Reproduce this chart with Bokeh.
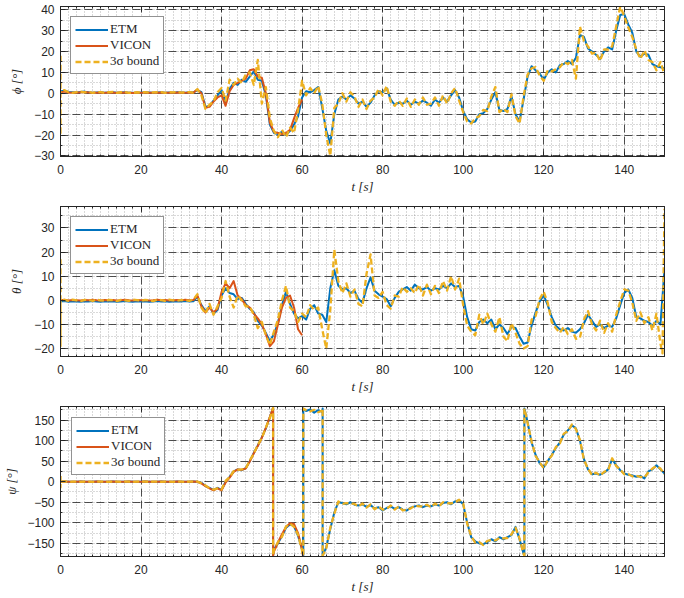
from bokeh.plotting import figure
from bokeh.layouts import column
from bokeh.models import (Range1d, SingleIntervalTicker, LinearAxis, Grid,
                          Legend, LegendItem)
from bokeh.embed import file_html
from bokeh.resources import INLINE

# ---------------- data ----------------
t_s = list(range(151))          # ETM sample times (s)
t_vic = list(range(61))         # VICON sample times (s)

legend_labels = ["ETM", "VICON", "3σ bound"]
x_label = "t [s]"

# ---- roll phi ----
phi_etm = [1.0, 1.2, 0.6, 0.5, 0.4, 0.6, 0.8, 0.5, 0.3, 0.4,
           0.5, 0.3, 0.4, 0.5, 0.3, 0.4, 0.5, 0.3, 0.2, 0.4,
           0.3, 0.5, 0.4, 0.3, 0.4, 0.5, 0.3, 0.4, 0.3, 0.5,
           0.4, 0.3, 0.5, 0.4, 1.5, 0.5, -6.5, -6.0, -3.5, -1.0,
           1.5, -4.5, 2.0, 5.0, 4.0, 6.5, 5.5, 8.0, 10.5, 6.5,
           6.0, -1.0, -15.0, -19.0, -19.5, -18.5, -20.0, -18.0, -15.0, -11.0,
           -2.0, 1.0, 0.5, 1.5, 3.0, -7.0, -18.0, -24.0, -10.0, -3.0,
           -1.5, -3.0, -1.0, -2.5, -5.0, -4.0, -6.5, -4.5, -1.0, 1.0,
           0.5, 2.5, -3.0, -5.5, -4.5, -5.0, -3.5, -5.5, -4.0, -5.0,
           -3.5, -4.5, -6.0, -3.0, -4.5, -2.0, -4.0, -1.0, 1.5, -2.0,
           -8.5, -12.5, -14.0, -13.5, -10.0, -9.5, -7.5, -3.0, 0.5, -8.0,
           -8.5, -7.5, -1.5, -10.0, -13.5, -3.0, 8.0, 13.0, 11.0, 9.5,
           6.5, 10.0, 11.5, 10.0, 13.5, 14.0, 15.5, 14.0, 17.0, 28.0,
           27.0, 21.5, 20.0, 18.5, 16.5, 20.0, 22.0, 21.0, 30.0, 37.5,
           38.0, 33.0, 29.0, 20.0, 17.5, 19.0, 18.5, 14.0, 13.0, 12.5,
           12.0]
phi_vic = [0.5, 0.8, 0.4, 0.3, 0.3, 0.5, 0.6, 0.4, 0.2, 0.3,
           0.4, 0.2, 0.3, 0.4, 0.2, 0.3, 0.4, 0.2, 0.1, 0.3,
           0.2, 0.4, 0.3, 0.2, 0.3, 0.4, 0.2, 0.3, 0.2, 0.4,
           0.3, 0.2, 0.4, 0.3, 1.8, 0.0, -7.0, -6.5, -4.0, -2.0,
           -1.0, -6.0, 1.0, 4.0, 5.0, 6.0, 7.0, 11.0, 11.5, 8.0,
           7.5, 0.0, -14.0, -18.5, -19.0, -19.5, -19.0, -17.5, -12.0, -7.0,
           -3.0]
phi_bnd_t = [0, 0, 0] + list(range(1, 151))
phi_bnd = [18.0, -20.0, 1.0,
           1.5, 0.5, 0.2, 0.6, 0.8, 0.4, 0.6, 0.2, 0.5,
           0.6, 0.2, 0.5, 0.7, 0.2, 0.5, 0.6, 0.2, 0.3, 0.5,
           0.2, 0.6, 0.3, 0.4, 0.5, 0.6, 0.2, 0.5, 0.4, 0.6,
           0.3, 0.4, 0.6, 0.3, 2.0, -1.0, -7.5, -5.5, -4.0, 0.5,
           2.5, -3.5, 6.5, 4.0, 7.0, 5.0, 9.0, 10.0, 4.0, 16.0,
           -5.0, 3.0, -12.0, -18.0, -21.0, -17.5, -21.0, -16.5, -19.0, -8.0,
           6.0, -1.0, 2.5, 0.0, 3.5, -5.0, -20.0, -30.0, -7.0, -5.0,
           0.0, -4.0, 0.5, -1.5, -6.5, -3.0, -7.5, -3.5, -2.0, 2.0,
           -1.0, 3.5, -4.0, -6.0, -3.5, -6.0, -2.5, -6.5, -3.0, -5.5,
           -2.0, -5.5, -5.0, -2.0, -6.0, -1.0, -5.0, 0.0, 2.5, -3.5,
           -9.0, -13.5, -14.5, -12.0, -11.0, -8.0, -8.5, -1.5, 3.0, -9.0,
           -7.5, -9.0, -0.5, -11.0, -14.5, -1.5, 9.0, 12.0, 12.5, 8.5,
           6.0, 11.0, 10.5, 11.5, 12.5, 15.0, 14.0, 16.0, 7.0, 32.0,
           25.0, 22.5, 19.0, 19.5, 15.5, 21.0, 21.0, 22.5, 32.0, 41.5,
           37.0, 31.5, 27.0, 21.0, 16.5, 20.5, 16.0, 15.0, 11.0, 15.0,
           9.0]

# ---- pitch theta ----
theta_etm = [-0.5, -0.3, -0.6, -0.4, -0.5, -0.6, -0.4, -0.5, -0.3, -0.5,
             -0.6, -0.4, -0.5, -0.4, -0.6, -0.5, -0.3, -0.5, -0.6, -0.4,
             -0.5, -0.4, -0.6, -0.5, -0.3, -0.5, -0.4, -0.6, -0.5, -0.4,
             -0.5, -0.3, -0.5, -0.4, 1.5, -2.0, -4.5, -2.5, -5.5, -4.0,
             2.0, 5.0, 3.0, 2.5, 0.5, 1.0, -1.5, -3.5, -5.0, -8.5,
             -10.5, -13.5, -17.0, -14.0, -9.5, -2.0, 3.5, -1.5, -5.5, -7.5,
             -6.5, -8.0, -3.5, -2.0, -5.5, -6.0, -9.0, 5.0, 12.5, 6.0,
             4.5, 5.0, 3.0, 4.0, 0.5, -1.0, 5.0, 9.5, 4.0, 2.5,
             1.5, 0.5, -2.5, 1.0, 3.5, 4.5, 5.5, 4.0, 6.5, 5.0,
             4.5, 5.5, 4.0, 5.0, 4.5, 6.0, 5.0, 7.0, 5.5, 6.0,
             1.5, -7.0, -12.0, -12.5, -9.0, -8.0, -9.5, -8.0, -12.0, -10.0,
             -11.5, -14.0, -11.0, -11.5, -15.0, -18.0, -17.5, -10.5, -5.0, -0.5,
             2.0, -2.0, -7.0, -10.5, -12.0, -12.5, -11.5, -13.0, -13.5, -12.0,
             -9.5, -6.0, -8.5, -11.0, -10.0, -11.5, -10.5, -11.0, -7.5, -2.0,
             3.0, 4.5, 1.0, -7.0, -7.5, -8.5, -9.0, -10.5, -8.5, -10.0,
             13.0]
theta_vic = [0.0, 0.2, -0.1, 0.1, 0.0, -0.1, 0.1, 0.0, 0.2, 0.0,
             -0.1, 0.1, 0.0, 0.1, -0.1, 0.0, 0.2, 0.0, -0.1, 0.1,
             0.0, 0.1, -0.1, 0.0, 0.2, 0.0, 0.1, -0.1, 0.0, 0.1,
             0.0, 0.2, 0.0, 0.1, 2.0, -2.5, -5.0, -3.0, -5.0, -3.5,
             3.5, 7.0, 5.0, 8.0, 2.0, 0.5, -2.0, -3.0, -5.5, -7.5,
             -10.0, -14.0, -19.0, -17.0, -10.0, -3.0, 1.0, 2.0, -3.0, -12.0,
             -14.5]
theta_bnd_t = [0, 0, 0] + list(range(1, 150)) + [149.5, 150]
theta_bnd = [17.0, -19.0, 0.0,
             0.2, -0.2, 0.3, 0.0, -0.3, 0.2, 0.1, -0.2, 0.3,
             0.0, -0.2, 0.2, 0.1, -0.3, 0.2, 0.0, -0.2, 0.3, 0.1,
             -0.2, 0.2, 0.0, -0.3, 0.2, 0.1, -0.2, 0.3, 0.0, -0.2,
             0.2, 0.0, -0.2, 0.3, 2.5, -3.0, -5.5, -1.5, -6.0, -2.5,
             1.0, 8.0, 1.5, -3.0, 2.0, 0.0, -2.5, -2.5, -6.0, -11.5,
             -9.0, -14.5, -18.5, -13.0, -8.0, 0.0, 6.0, -3.0, -4.5, -9.0,
             -5.5, -7.0, -2.0, -4.0, -3.0, -12.0, -20.0, -4.0, 21.0, 8.0,
             3.0, 7.0, 1.5, 4.5, -1.5, -2.5, 11.0, 19.0, 2.0, 1.0,
             3.5, -2.0, -3.5, 2.0, 1.5, 5.5, 3.5, 5.0, 3.0, 6.5,
             2.0, 6.5, 2.5, 6.0, 3.0, 8.0, 4.0, 10.0, 4.5, 9.0,
             -2.0, -10.5, -13.0, -14.5, -6.0, -10.0, -5.5, -10.0, -13.0, -7.0,
             -15.0, -17.0, -9.5, -13.5, -18.0, -20.0, -19.0, -8.0, -6.5, 0.5,
             3.5, -1.0, -9.0, -11.5, -13.5, -11.0, -14.0, -12.0, -16.0, -15.5,
             -8.0, -4.5, -10.0, -12.5, -8.5, -13.5, -9.5, -13.0, -6.0, -0.5,
             4.5, 4.0, -1.0, -8.5, -5.0, -9.5, -7.0, -12.5, -5.5, -18.0,
             -22.0, 38.0]

# ---- yaw psi (wraps at +-180) ----
psi_t = (list(range(0, 53)) + [52.8, 52.8] + list(range(53, 61)) + [60.3, 60.3]
         + list(range(61, 66)) + [65.1, 65.1] + list(range(66, 116))
         + [115.2, 115.2] + list(range(116, 151)))
psi_etm = [0.0, 0.3, 0.0, -0.3, 0.0, 0.2, 0.0, -0.2, 0.0, 0.3,
           0.0, -0.3, 0.0, 0.2, 0.0, -0.2, 0.0, 0.3, 0.0, -0.3,
           0.0, 0.2, 0.0, -0.2, 0.0, 0.3, 0.0, -0.3, 0.0, 0.2,
           0.0, -0.2, 0.0, 0.3, 0.0, -3.0, -10.0, -15.0, -20.0, -15.0,
           -20.0, 0.0, 12.0, 25.0, 30.0, 28.0, 33.0, 50.0, 70.0, 88.0,
           108.0, 130.0, 157.0,
           180.0, -180.0,
           -165.0, -150.0, -132.0, -112.0, -104.0, -108.0, -132.0, -165.0,
           -180.0, 178.0,
           172.0, 176.0, 168.0, 174.0, 170.0,
           178.0, -180.0,
           -160.0, -115.0, -75.0, -50.0,
           -52.0, -55.0, -50.0, -56.0, -58.0, -55.0, -61.0, -57.0, -65.0, -62.0,
           -70.0, -64.0, -60.0, -66.0, -62.0, -68.0, -70.0, -63.0, -60.0, -58.0,
           -62.0, -58.0, -60.0, -55.0, -58.0, -52.0, -50.0, -55.0, -48.0, -45.0,
           -55.0, -100.0, -135.0, -145.0, -150.0, -152.0, -147.0, -140.0, -145.0, -135.0,
           -140.0, -135.0, -130.0, -110.0, -140.0, -175.0,
           -180.0, 178.0,
           145.0, 95.0, 65.0, 45.0,
           35.0, 50.0, 65.0, 82.0, 95.0, 115.0, 125.0, 137.0, 130.0, 100.0,
           55.0, 30.0, 18.0, 20.0, 17.0, 22.0, 30.0, 55.0, 40.0, 28.0,
           20.0, 17.0, 15.0, 12.0, 14.0, 8.0, 25.0, 30.0, 40.0, 30.0,
           20.0]
psi_vic_t = list(range(0, 53)) + [52.8, 52.8] + list(range(53, 61)) + [60.2]
psi_vic = [0.0, 0.2, 0.0, -0.2, 0.0, 0.2, 0.0, -0.2, 0.0, 0.2,
           0.0, -0.2, 0.0, 0.2, 0.0, -0.2, 0.0, 0.2, 0.0, -0.2,
           0.0, 0.2, 0.0, -0.2, 0.0, 0.2, 0.0, -0.2, 0.0, 0.2,
           0.0, -0.2, 0.0, 0.2, 0.0, -4.0, -11.0, -16.0, -21.0, -16.0,
           -21.0, -2.0, 10.0, 24.0, 30.0, 29.0, 32.0, 49.0, 69.0, 87.0,
           107.0, 131.0, 158.0,
           180.0, -180.0,
           -170.0, -148.0, -128.0, -110.0, -101.0, -103.0, -125.0, -165.0,
           -180.0]
psi_bnd_t = [0, 0] + psi_t
psi_bnd = [14.0, -14.0,
           0.0, 0.5, -0.3, 0.0, 0.4, -0.2, 0.3, 0.0, -0.4, 0.2,
           0.3, 0.0, -0.3, 0.4, 0.0, -0.2, 0.3, 0.0, -0.3, 0.2,
           0.0, 0.4, -0.2, 0.0, 0.3, -0.3, 0.2, 0.0, -0.2, 0.4,
           0.0, -0.3, 0.2, 0.0, 0.5, -4.0, -9.0, -16.0, -19.0, -16.5,
           -19.0, 2.0, 11.0, 26.0, 29.0, 30.0, 32.0, 52.0, 68.0, 90.0,
           106.0, 132.0, 155.0,
           180.0, -180.0,
           -167.0, -147.0, -134.0, -109.0, -102.0, -110.0, -129.0, -168.0,
           -180.0, 178.0,
           174.0, 171.0, 175.0, 169.0, 173.0,
           178.0, -180.0,
           -162.0, -112.0, -78.0, -48.0,
           -54.0, -52.0, -53.0, -54.0, -60.0, -53.0, -63.0, -55.0, -67.0, -60.0,
           -68.0, -66.0, -58.0, -68.0, -60.0, -70.0, -68.0, -65.0, -58.0, -60.0,
           -60.0, -56.0, -62.0, -53.0, -60.0, -50.0, -52.0, -53.0, -50.0, -44.0,
           -53.0, -102.0, -133.0, -148.0, -147.0, -154.0, -144.0, -142.0, -143.0, -137.0,
           -138.0, -137.0, -128.0, -112.0, -138.0, -176.0,
           -180.0, 178.0,
           143.0, 98.0, 62.0, 47.0,
           33.0, 52.0, 63.0, 84.0, 93.0, 117.0, 123.0, 139.0, 128.0, 102.0,
           53.0, 32.0, 16.0, 22.0, 15.0, 24.0, 28.0, 57.0, 38.0, 30.0,
           18.0, 19.0, 13.0, 14.0, 12.0, 10.0, 23.0, 32.0, 38.0, 32.0,
           18.0]

# ---------------- styling ----------------
C_ETM = "#0072BD"
C_VIC = "#D95319"
C_BND = "#EDB120"
DARK = "#262626"
TICK_FONT = "Liberation Sans"
SERIF = "Liberation Serif"


def style_axis(ax, show_labels=True):
    ax.axis_line_color = DARK
    ax.axis_line_width = 1
    ax.major_tick_line_color = DARK
    ax.minor_tick_line_color = DARK
    ax.major_tick_in = 5
    ax.major_tick_out = 0
    ax.minor_tick_in = 2
    ax.minor_tick_out = 0
    if show_labels:
        ax.major_label_text_font = TICK_FONT
        ax.major_label_text_font_size = "12px"
        ax.major_label_text_color = DARK
        ax.axis_label_text_font = SERIF
        ax.axis_label_text_font_size = "13px"
        ax.axis_label_text_font_style = "italic"
        ax.axis_label_text_color = DARK
    else:
        # tick marks only (box-style ticks on top/right), no labels drawn
        ax.major_label_text_font_size = "1px"
        ax.major_label_text_color = None
        ax.major_label_standoff = 0


def panel(height, top, bottom, left, ylo, yhi, yint, ylabel, series,
          ystand, legend_margin):
    p = figure(width=684, height=height, x_range=Range1d(0, 150),
               y_range=Range1d(ylo, yhi), output_backend="svg",
               toolbar_location=None, x_axis_type=None, y_axis_type=None,
               min_border_left=left, min_border_right=20,
               min_border_top=top, min_border_bottom=bottom)
    p.outline_line_color = DARK
    p.outline_line_width = 1
    p.background_fill_color = "white"

    xt = SingleIntervalTicker(interval=20, num_minor_ticks=10)
    yt = SingleIntervalTicker(interval=yint, num_minor_ticks=2)

    for dim, tk in ((0, xt), (1, yt)):
        g = Grid(dimension=dim, ticker=tk)
        g.grid_line_color = DARK
        g.grid_line_alpha = 0.8
        g.grid_line_dash = "8 4"
        g.grid_line_width = 1
        g.minor_grid_line_color = DARK
        g.minor_grid_line_alpha = 0.35
        g.minor_grid_line_dash = "1 2"
        g.minor_grid_line_width = 1
        p.add_layout(g, "center")

    (te, ye), (tv, yv), (tb, yb) = series
    r1 = p.line(te, ye, line_color=C_ETM, line_width=2, line_join="round")
    r2 = p.line(tv, yv, line_color=C_VIC, line_width=2, line_join="round")
    r3 = p.line(tb, yb, line_color=C_BND, line_width=2.3, line_dash="6 3",
                line_join="round")

    xa = LinearAxis(ticker=xt, axis_label=x_label)
    style_axis(xa)
    xa.major_label_standoff = 8
    xa.axis_label_standoff = 2
    p.add_layout(xa, "below")

    ya = LinearAxis(ticker=yt, axis_label=ylabel)
    style_axis(ya)
    ya.major_label_standoff = 6
    ya.axis_label_standoff = ystand
    p.add_layout(ya, "left")

    xa2 = LinearAxis(ticker=xt)
    style_axis(xa2, False)
    p.add_layout(xa2, "above")
    ya2 = LinearAxis(ticker=yt)
    style_axis(ya2, False)
    p.add_layout(ya2, "right")

    leg = Legend(items=[LegendItem(label=legend_labels[0], renderers=[r1]),
                        LegendItem(label=legend_labels[1], renderers=[r2]),
                        LegendItem(label=legend_labels[2], renderers=[r3])],
                 location="top_left")
    leg.border_line_color = DARK
    leg.border_line_width = 1
    leg.background_fill_color = "white"
    leg.background_fill_alpha = 1
    leg.label_text_font = SERIF
    leg.label_text_font_size = "13px"
    leg.label_text_color = DARK
    leg.glyph_width = 33
    leg.glyph_height = 13
    leg.label_height = 13
    leg.label_standoff = 2
    leg.padding = 4
    leg.spacing = 0
    leg.margin = legend_margin
    p.add_layout(leg, "center")
    return p


p1 = panel(197, 6, 41, 54, -30.3, 41.6, 10, "ϕ [°]",
           ((t_s, phi_etm), (t_vic, phi_vic), (phi_bnd_t, phi_bnd)), 7, 10)
p2 = panel(199, 9, 40, 54, -23.3, 38.9, 10, "θ [°]",
           ((t_s, theta_etm), (t_vic, theta_vic), (theta_bnd_t, theta_bnd)), 7, 10)
p3 = panel(202, 10, 42, 60, -182, 183, 50, "ψ [°]",
           ((psi_t, psi_etm), (psi_vic_t, psi_vic), (psi_bnd_t, psi_bnd)), 5, 11)

layout = column(p1, p2, p3, spacing=0)
open("out.html", "w").write(file_html(layout, INLINE))
